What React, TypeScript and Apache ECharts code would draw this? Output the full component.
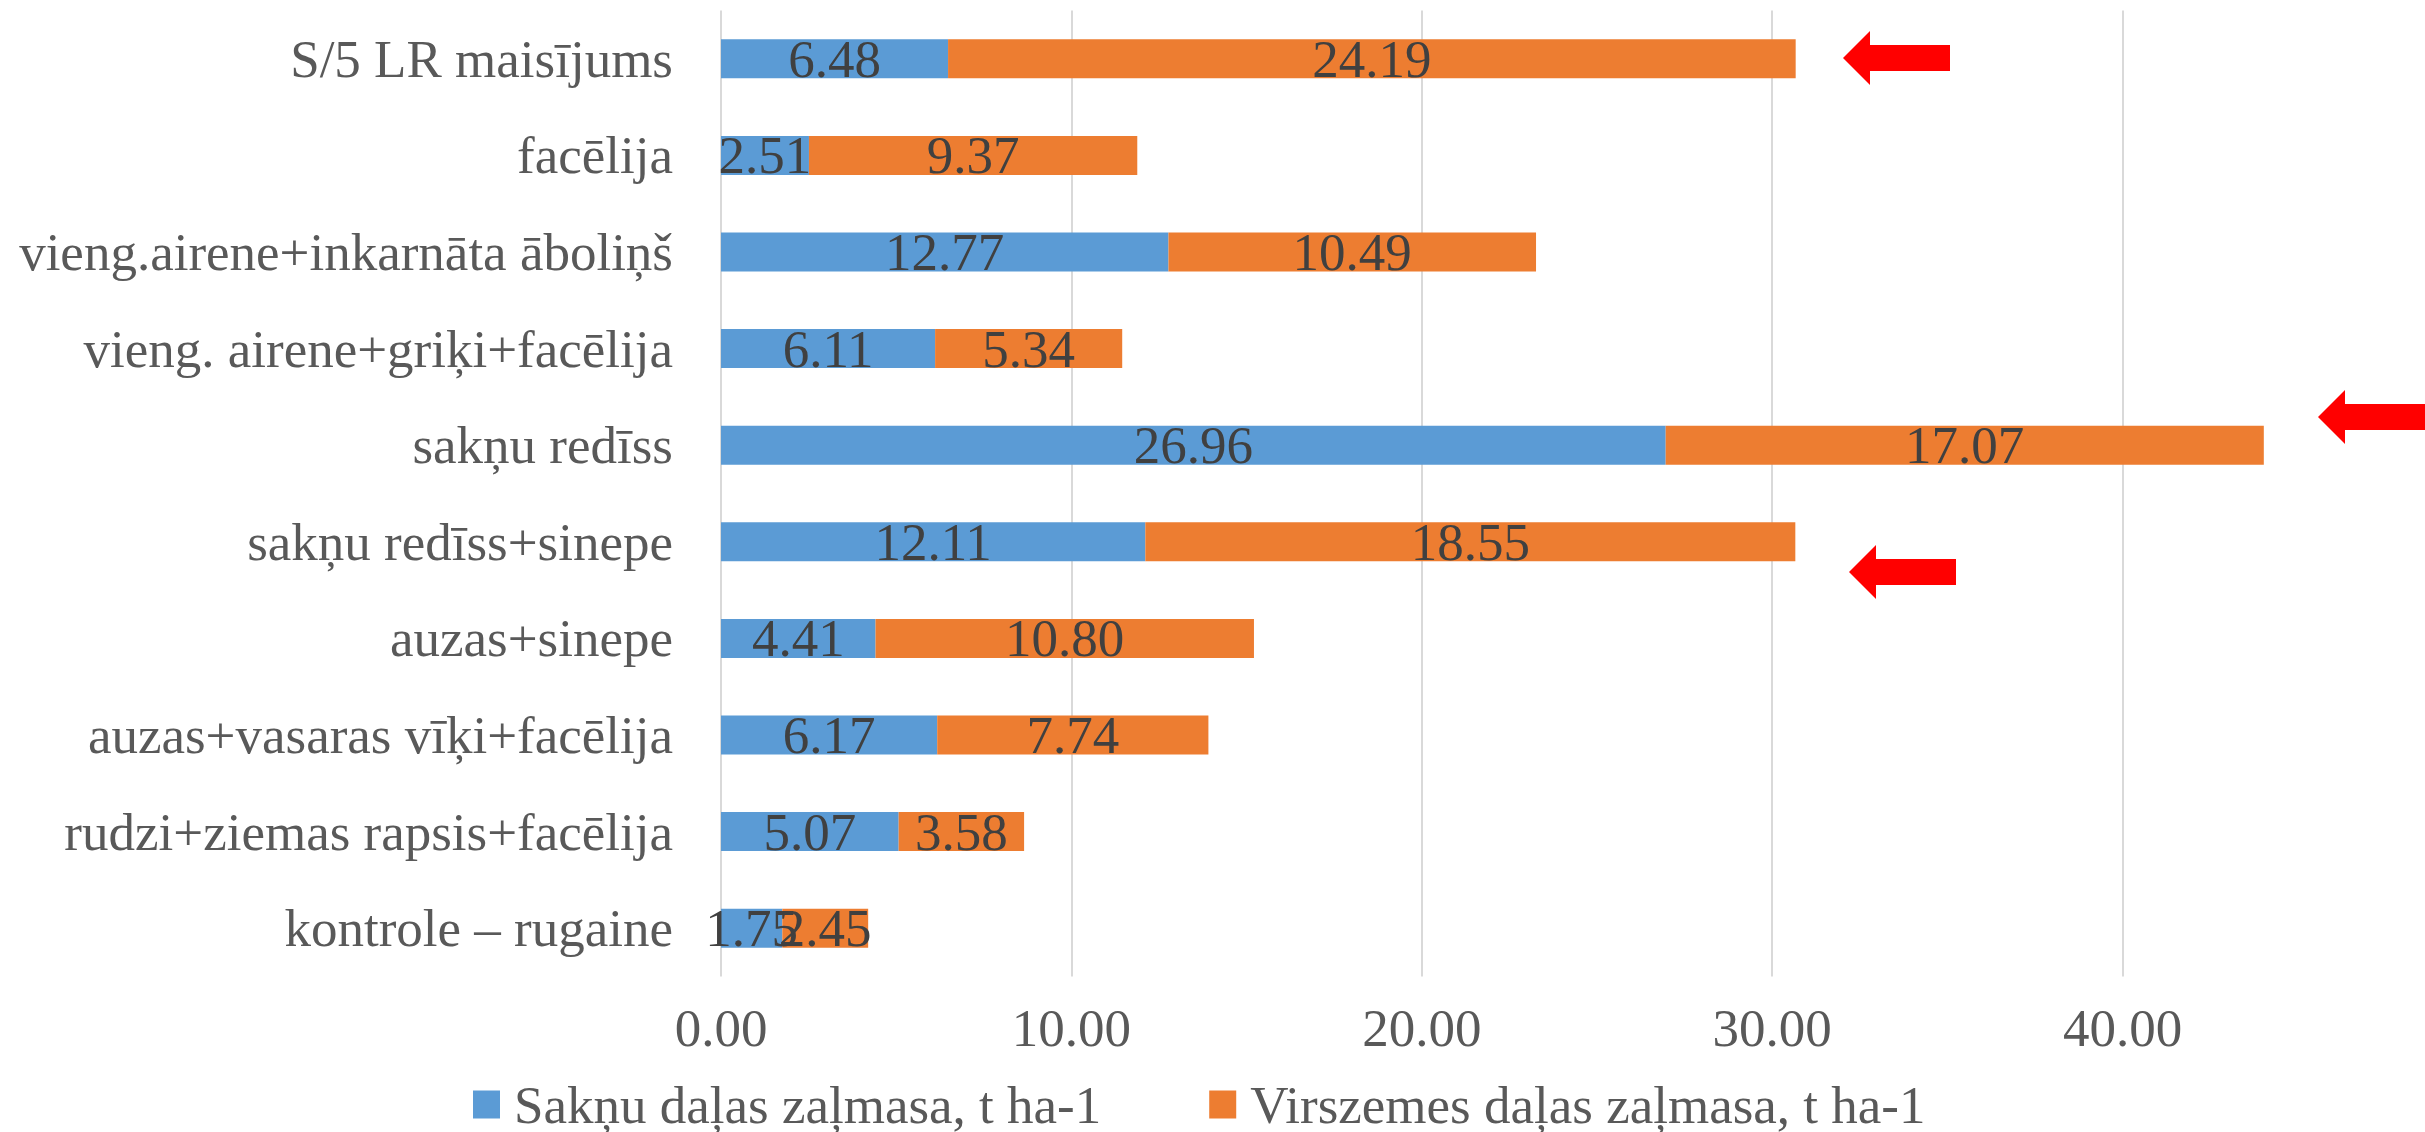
import React, { useEffect, useRef } from "react";
import * as echarts from "echarts";

const categories = [
  "S/5 LR maisījums",
  "facēlija",
  "vieng.airene+inkarnāta āboliņš",
  "vieng. airene+griķi+facēlija",
  "sakņu redīss",
  "sakņu redīss+sinepe",
  "auzas+sinepe",
  "auzas+vasaras vīķi+facēlija",
  "rudzi+ziemas rapsis+facēlija",
  "kontrole – rugaine",
];
const rootMass = [6.48, 2.51, 12.77, 6.11, 26.96, 12.11, 4.41, 6.17, 5.07, 1.75];
const topMass = [24.19, 9.37, 10.49, 5.34, 17.07, 18.55, 10.8, 7.74, 3.58, 2.45];
const seriesNames = ["Sakņu daļas zaļmasa, t ha-1", "Virszemes daļas zaļmasa, t ha-1"];
const xTicks = { min: 0, max: 50, interval: 10 };

const FONT = "'Liberation Serif', 'Times New Roman', serif";

function arrow(tipX: number, tipY: number) {
  const headLen = 27;
  const totalLen = 107;
  const headHalf = 27;
  const shaftHalf = 13;
  return {
    type: "polygon",
    shape: {
      points: [
        [tipX, tipY],
        [tipX + headLen, tipY - headHalf],
        [tipX + headLen, tipY - shaftHalf],
        [tipX + totalLen, tipY - shaftHalf],
        [tipX + totalLen, tipY + shaftHalf],
        [tipX + headLen, tipY + shaftHalf],
        [tipX + headLen, tipY + headHalf],
      ],
    },
    style: { fill: "#FF0000" },
    silent: true,
  };
}

export default function App() {
  const ref = useRef<HTMLDivElement>(null);
  useEffect(() => {
    if (!ref.current) return;
    const chart = echarts.init(ref.current, undefined, { renderer: "svg" });
    const labelStyle = {
      show: true,
      position: "inside",
      color: "#404040",
      fontFamily: FONT,
      fontSize: 53,
      formatter: (p: any) => Number(p.value).toFixed(2),
    };
    chart.setOption({
      animation: false,
      backgroundColor: "#ffffff",
      grid: { left: 721, top: 10.5, height: 966, width: 1752, containLabel: false },
      xAxis: {
        type: "value",
        min: xTicks.min,
        max: xTicks.max,
        interval: xTicks.interval,
        axisLine: { show: false },
        axisTick: { show: false },
        splitLine: { show: true, lineStyle: { color: "#D9D9D9", width: 2 } },
        axisLabel: {
          color: "#595959",
          fontFamily: FONT,
          fontSize: 53,
          lineHeight: 53,
          margin: 25,
          showMaxLabel: false,
          formatter: (v: number) => v.toFixed(2),
        },
      },
      yAxis: {
        type: "category",
        data: categories,
        inverse: true,
        axisLine: { show: false },
        axisTick: { show: false },
        splitLine: { show: false },
        axisLabel: {
          color: "#595959",
          fontFamily: FONT,
          fontSize: 53,
          margin: 48,
        },
      },
      legend: {
        left: 473,
        top: 1078,
        padding: 0,
        itemWidth: 27,
        itemHeight: 28,
        itemGap: 108,
        icon: "rect",
        textStyle: {
          color: "#595959",
          fontFamily: FONT,
          fontSize: 53,
          padding: [0, 0, 0, 9],
        },
        data: seriesNames,
      },
      series: [
        {
          name: seriesNames[0],
          type: "bar",
          stack: "total",
          barWidth: 39,
          data: rootMass,
          itemStyle: { color: "#5B9BD5" },
          label: labelStyle,
        },
        {
          name: seriesNames[1],
          type: "bar",
          stack: "total",
          barWidth: 39,
          data: topMass,
          itemStyle: { color: "#ED7D31" },
          label: labelStyle,
        },
      ],
      graphic: [arrow(1843, 58), arrow(2318, 417), arrow(1849, 572)],
    });
    return () => chart.dispose();
  }, []);
  return (
    <div
      style={{ position: "fixed", left: 0, top: 0, width: 2425, height: 1132, overflow: "hidden", background: "#fff" }}
    >
      <div ref={ref} style={{ position: "absolute", left: 0, top: 0, width: 2600, height: 1132 }} />
    </div>
  );
}
